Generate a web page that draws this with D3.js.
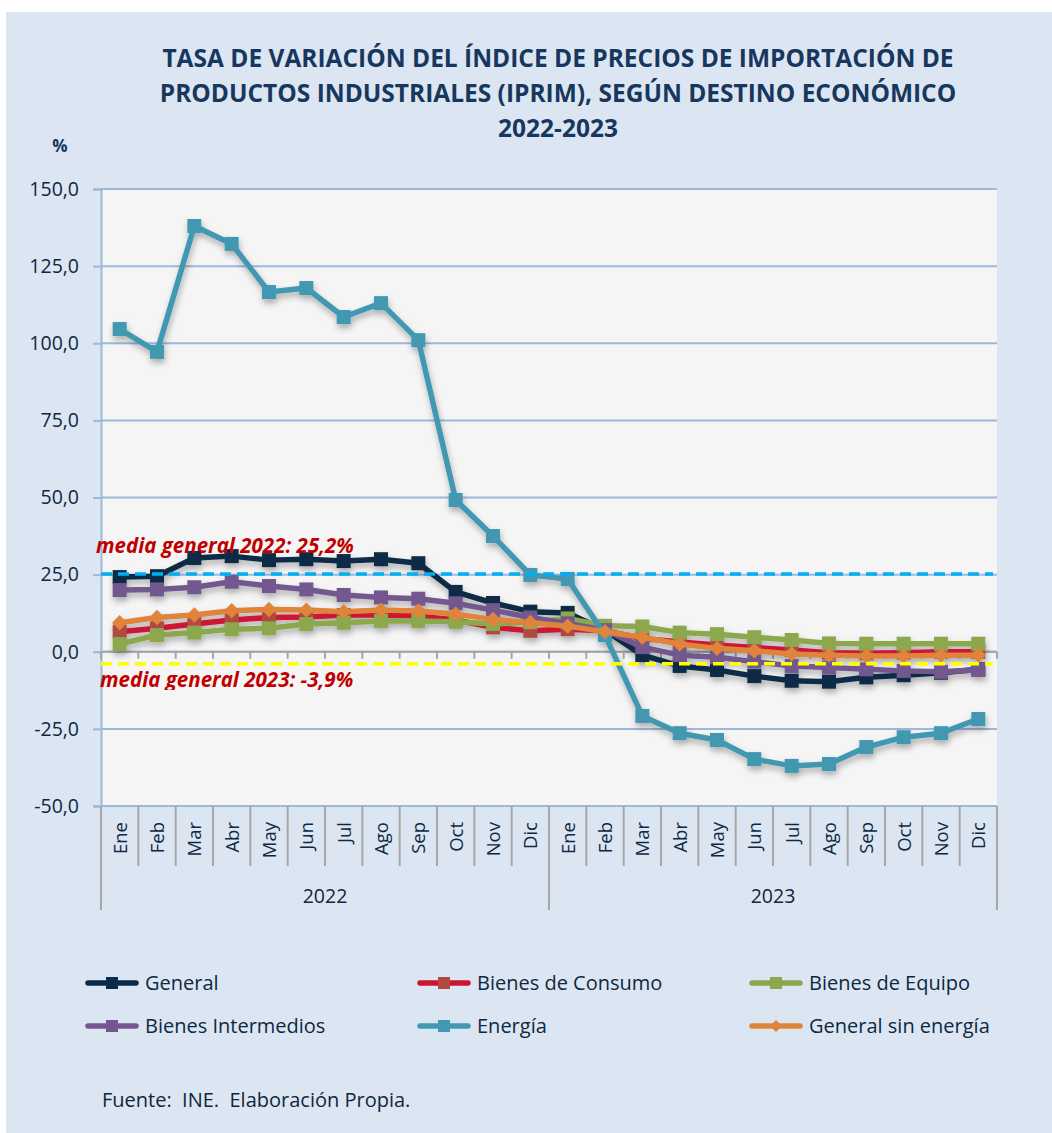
<!DOCTYPE html>
<html>
<head>
<meta charset="utf-8">
<script src="https://cdn.jsdelivr.net/npm/d3@7"></script>
<style>
  html, body { margin: 0; padding: 0; background: #ffffff; }
  svg { display: block; }
  text { font-family: "Open Sans", "DejaVu Sans", sans-serif; }
</style>
</head>
<body>
<svg id="chart" width="1052" height="1133"></svg>
<script>
// Month and year labels for the category axis
const months = ["Ene","Feb","Mar","Abr","May","Jun","Jul","Ago","Sep","Oct","Nov","Dic"];
const years = ["2022","2023"];

// Year-on-year rates (%) by economic destination, Jan 2022 - Dec 2023
const general      = [24.2,24.5,30.4,31.0,29.7,30.0,29.4,30.0,28.7,19.4,15.8,13.0, 12.6,7.0,-1.1,-4.6,-5.9,-7.9,-9.4,-9.7,-8.3,-7.6,-6.8,-5.7];
const consumo      = [6.5,7.6,9.0,10.3,11.1,11.3,11.9,11.9,11.6,10.3,7.9,6.8, 7.3,6.8,4.3,3.2,2.2,1.4,0.6,-0.3,-0.5,-0.3,0.0,0.0];
const equipo       = [2.5,5.4,6.2,7.3,7.6,9.0,9.4,10.0,10.0,9.7,9.0,9.6, 10.8,8.4,8.2,6.2,5.7,4.7,3.8,2.7,2.6,2.6,2.6,2.6];
const intermedios  = [20.0,20.2,20.9,22.7,21.3,20.2,18.4,17.6,17.2,15.7,13.5,11.1, 9.2,7.0,1.5,-1.1,-1.8,-3.2,-4.6,-5.1,-5.7,-6.2,-6.5,-5.9];
const energia      = [104.6,97.2,138.0,132.2,116.6,117.9,108.5,113.0,101.0,49.2,37.5,24.9, 23.6,5.4,-20.8,-26.4,-28.6,-34.8,-37.0,-36.4,-30.9,-27.7,-26.4,-21.8];
const sinEnergia   = [9.4,11.1,11.9,13.3,13.7,13.5,13.0,13.5,13.2,12.2,10.5,9.5, 8.3,6.5,4.7,2.5,1.1,0.3,-0.7,-1.1,-1.4,-1.4,-1.1,-1.1];

// Annual averages of the general index
const mediaLabels = ["media general 2022: 25,2%", "media general 2023: -3,9%"];
const mediaValues = [25.2, -3.9];

const yTicks = [150,125,100,75,50,25,0,-25,-50];

const seriesNames = ["General","Bienes de Consumo","Bienes de Equipo","Bienes Intermedios","Energía","General sin energía"];
const seriesData = [general, consumo, equipo, intermedios, energia, sinEnergia];

// Styling per series: line colour, marker colour, marker shape
const styles = [
  {line:"#0b2a47", marker:"#0b2a47", shape:"square"},
  {line:"#cc1431", marker:"#b0493f", shape:"square"},
  {line:"#8ba84d", marker:"#8ba84d", shape:"square"},
  {line:"#72588f", marker:"#72588f", shape:"square"},
  {line:"#4298b1", marker:"#4298b1", shape:"square"},
  {line:"#e0833b", marker:"#e0833b", shape:"diamond"}
];

const categories = [];
years.forEach(y => months.forEach(m => categories.push(y + "-" + m)));

const svg = d3.select("#chart");

// Outer chart background
svg.append("rect").attr("x", 6).attr("y", 12).attr("width", 1046).attr("height", 1121).attr("fill", "#dce6f2");

const plot = {left: 101, right: 997, top: 189, bottom: 806};

const x = d3.scaleBand().domain(categories).range([plot.left, plot.right]).padding(0);
const y = d3.scaleLinear().domain([-50, 150]).range([plot.bottom, plot.top]);
const cx = c => x(c) + x.bandwidth() / 2;

// Shadow under the series lines
const defs = svg.append("defs");
const f = defs.append("filter").attr("id", "shadow").attr("x", "-5%").attr("y", "-10%").attr("width", "110%").attr("height", "130%");
f.append("feDropShadow").attr("dx", 1).attr("dy", 4).attr("stdDeviation", 3).attr("flood-color", "#000").attr("flood-opacity", 0.3);

defs.append("clipPath").attr("id", "clipLow").append("rect").attr("x", 0).attr("y", 0).attr("width", 1052).attr("height", 690);

// Title
const title = ["TASA DE VARIACIÓN DEL ÍNDICE DE PRECIOS DE IMPORTACIÓN DE",
               "PRODUCTOS INDUSTRIALES (IPRIM), SEGÚN DESTINO ECONÓMICO",
               "2022-2023"];
svg.append("g").selectAll("text").data(title).join("text")
  .attr("x", 558).attr("y", (d, i) => 67 + i * 35)
  .attr("text-anchor", "middle").attr("font-size", 24.5).attr("font-weight", 700)
  .attr("fill", "#17375e").text(d => d);

svg.append("text").attr("x", 60).attr("y", 152).attr("text-anchor", "middle")
  .attr("font-size", 17).attr("font-weight", 700).attr("fill", "#17375e").text("%");

// Plot area
svg.append("rect").attr("x", plot.left).attr("y", plot.top)
  .attr("width", plot.right - plot.left).attr("height", plot.bottom - plot.top).attr("fill", "#f5f5f5");

// Value axis with gridlines
const yAxis = d3.axisLeft(y).tickValues(yTicks).tickSize(8).tickPadding(14)
  .tickFormat(d => d.toFixed(1).replace(".", ","));
const gy = svg.append("g").attr("transform", `translate(${plot.left},0)`).call(yAxis);
gy.select(".domain").attr("stroke", "#9cb8db").attr("stroke-width", 2);
gy.selectAll(".tick line").attr("stroke", "#9cb8db").attr("stroke-width", 2);
gy.selectAll(".tick text").attr("font-size", 19.5).attr("fill", "#0e2841").attr("font-family", "Open Sans, sans-serif");

svg.append("g").selectAll("line").data(yTicks).join("line")
  .attr("x1", plot.left).attr("x2", plot.right)
  .attr("y1", d => y(d)).attr("y2", d => y(d))
  .attr("stroke", "#9cb8db").attr("stroke-width", 2);

// Category axis crossing at zero, with boundary ticks
const boundaries = d3.range(categories.length + 1).map(i => plot.left + i * x.bandwidth());
svg.append("line").attr("x1", plot.left).attr("x2", plot.right).attr("y1", y(0)).attr("y2", y(0))
  .attr("stroke", "#a6a6a6").attr("stroke-width", 2);
svg.append("g").selectAll("line").data(boundaries).join("line")
  .attr("x1", d => d).attr("x2", d => d).attr("y1", y(0)).attr("y2", y(0) + 7)
  .attr("stroke", "#a6a6a6").attr("stroke-width", 2);

// Month / year labels below the plot
svg.append("g").selectAll("line").data(boundaries).join("line")
  .attr("x1", d => d).attr("x2", d => d)
  .attr("y1", plot.bottom)
  .attr("y2", (d, i) => (i % 12 === 0) ? 910 : 866)
  .attr("stroke", "#a6a6a6").attr("stroke-width", 2);

svg.append("g").selectAll("text").data(categories).join("text")
  .attr("transform", d => `translate(${cx(d) + 7},822) rotate(-90)`)
  .attr("text-anchor", "end").attr("font-size", 18.5).attr("fill", "#0e2841")
  .text(d => d.split("-")[1]);

svg.append("g").selectAll("text").data(years).join("text")
  .attr("x", (d, i) => plot.left + (i + 0.5) * 12 * x.bandwidth())
  .attr("y", 903).attr("text-anchor", "middle").attr("font-size", 19.5).attr("fill", "#0e2841")
  .text(d => d);

// Series lines and markers
const line = d3.line().x((d, i) => cx(categories[i])).y(d => y(d));
const seriesG = svg.append("g").attr("filter", "url(#shadow)");
seriesData.forEach((vals, si) => {
  const st = styles[si];
  const g = seriesG.append("g");
  g.append("path").datum(vals).attr("d", line)
    .attr("fill", "none").attr("stroke", st.line).attr("stroke-width", 5.5)
    .attr("stroke-linejoin", "round");
  if (st.shape === "square") {
    g.selectAll("rect").data(vals).join("rect")
      .attr("x", (d, i) => cx(categories[i]) - 7).attr("y", d => y(d) - 7)
      .attr("width", 14).attr("height", 14).attr("fill", st.marker);
  } else {
    g.selectAll("path.m").data(vals).join("path").attr("class", "m")
      .attr("d", d3.symbol(d3.symbolDiamond2, 150))
      .attr("transform", (d, i) => `translate(${cx(categories[i])},${y(d)})`)
      .attr("fill", st.marker);
  }
});

// Annual average reference lines
const mediaColors = ["#00b0f0", "#ffff00"];
svg.append("g").selectAll("line").data(mediaValues).join("line")
  .attr("x1", plot.left).attr("x2", plot.right - 4)
  .attr("y1", d => y(d)).attr("y2", d => y(d))
  .attr("stroke", (d, i) => mediaColors[i]).attr("stroke-width", 3.5)
  .attr("stroke-dasharray", "11,6");

svg.append("text").attr("x", 96).attr("y", 553)
  .attr("font-size", 20.5).attr("font-weight", 700).attr("font-style", "italic")
  .attr("fill", "#c00000").text(mediaLabels[0]);
svg.append("text").attr("x", 100).attr("y", 687).attr("clip-path", "url(#clipLow)")
  .attr("font-size", 20.5).attr("font-weight", 700).attr("font-style", "italic")
  .attr("fill", "#c00000").text(mediaLabels[1]);

// Legend
const legendPos = [[88,983],[420,983],[752,983],[88,1026],[420,1026],[752,1026]];
const lg = svg.append("g");
seriesNames.forEach((name, i) => {
  const [lx, ly] = legendPos[i];
  const st = styles[i];
  lg.append("line").attr("x1", lx).attr("x2", lx + 48).attr("y1", ly).attr("y2", ly)
    .attr("stroke", st.line).attr("stroke-width", 5.5).attr("stroke-linecap", "round");
  if (st.shape === "square") {
    lg.append("rect").attr("x", lx + 18).attr("y", ly - 6).attr("width", 12).attr("height", 12).attr("fill", st.marker);
  } else {
    lg.append("path").attr("d", d3.symbol(d3.symbolDiamond2, 90))
      .attr("transform", `translate(${lx + 24},${ly})`).attr("fill", st.marker);
  }
  lg.append("text").attr("x", lx + 57).attr("y", ly + 7).attr("font-size", 20)
    .attr("fill", "#0e2841").text(name);
});

svg.append("text").attr("x", 102).attr("y", 1107).attr("font-size", 20)
  .attr("fill", "#0e2841").attr("xml:space", "preserve").text("Fuente:  INE.  Elaboración Propia.");
</script>
</body>
</html>
